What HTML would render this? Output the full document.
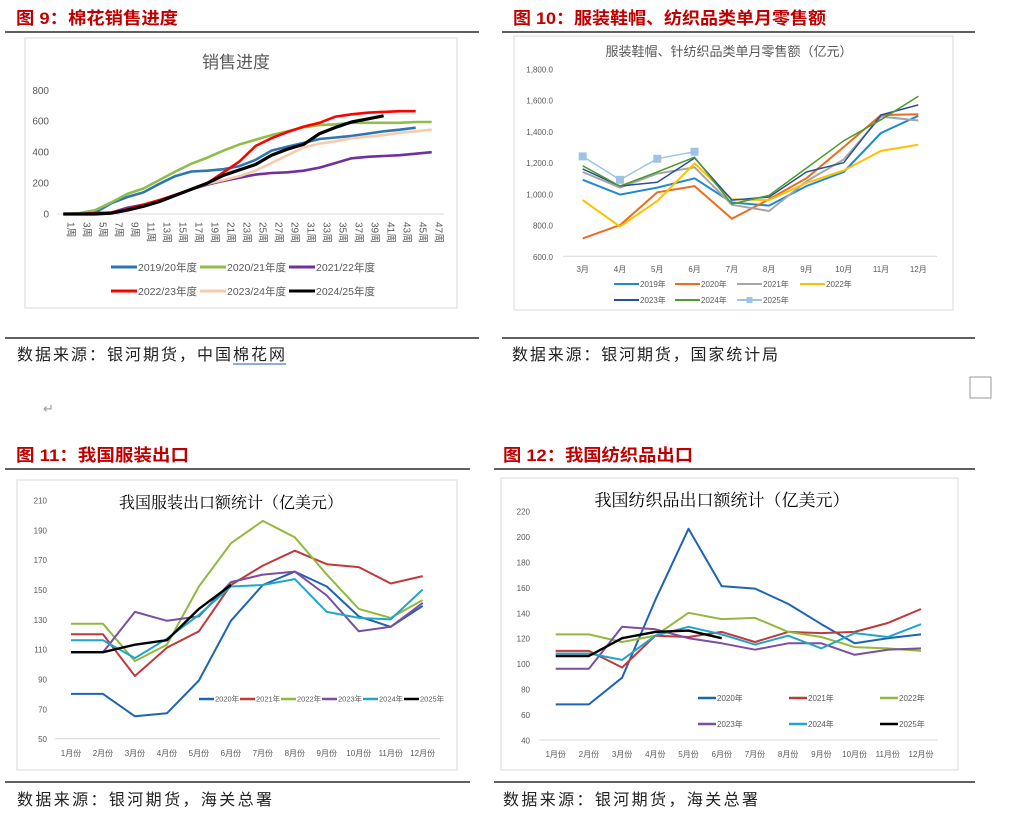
<!DOCTYPE html>
<html><head><meta charset="utf-8">
<style>
html,body{margin:0;padding:0;background:#fff;}
body{width:1018px;height:839px;overflow:hidden;position:relative;font-family:"Liberation Sans","Noto Sans CJK SC",sans-serif;}
svg{position:absolute;left:0;top:0;}
</style></head>
<body>
<svg id="pg" width="1018" height="839" viewBox="0 0 1018 839">
<g font-family="'Liberation Sans','Noto Sans CJK SC',sans-serif">
<text x="16" y="24" font-size="17" font-weight="bold" fill="#c00000" textLength="162" lengthAdjust="spacingAndGlyphs">图 9：棉花销售进度</text>
<text x="513" y="24" font-size="17" font-weight="bold" fill="#c00000" textLength="313" lengthAdjust="spacingAndGlyphs">图 10：服装鞋帽、纺织品类单月零售额</text>
<text x="16" y="461" font-size="17" font-weight="bold" fill="#c00000" textLength="173" lengthAdjust="spacingAndGlyphs">图 11：我国服装出口</text>
<text x="503" y="461" font-size="17" font-weight="bold" fill="#c00000" textLength="190" lengthAdjust="spacingAndGlyphs">图 12：我国纺织品出口</text>
<line x1="5" y1="32" x2="479" y2="32" stroke="#000" stroke-width="1.3"/>
<line x1="502" y1="32" x2="975" y2="32" stroke="#000" stroke-width="1.3"/>
<line x1="5" y1="338" x2="479" y2="338" stroke="#000" stroke-width="1.3"/>
<line x1="502" y1="338" x2="975" y2="338" stroke="#000" stroke-width="1.3"/>
<line x1="5" y1="469" x2="470" y2="469" stroke="#000" stroke-width="1.3"/>
<line x1="494" y1="469" x2="975" y2="469" stroke="#000" stroke-width="1.3"/>
<line x1="5" y1="782" x2="470" y2="782" stroke="#000" stroke-width="1.3"/>
<line x1="494" y1="782" x2="975" y2="782" stroke="#000" stroke-width="1.3"/>
<text x="17" y="360" font-size="16" fill="#222" textLength="268" lengthAdjust="spacing">数据来源：银河期货，中国棉花网</text>
<line x1="233" y1="364" x2="286" y2="364" stroke="#2255cc" stroke-width="1"/>
<text x="512" y="360" font-size="16" fill="#222" textLength="266" lengthAdjust="spacing">数据来源：银河期货，国家统计局</text>
<text x="17" y="805" font-size="16" fill="#222" textLength="255" lengthAdjust="spacing">数据来源：银河期货，海关总署</text>
<text x="503" y="805" font-size="16" fill="#222" textLength="255" lengthAdjust="spacing">数据来源：银河期货，海关总署</text>
<rect x="970" y="377" width="21" height="21" fill="none" stroke="#999"/>
<text x="43" y="413" font-size="13" fill="#999">↵</text>
</g>
<g id="c1"></g>
<g id="c2"></g>
<g id="c3"></g>
<g id="c4"></g>
</svg>
<script>
// ---- Chart 1 data ----
const c1Weeks = ["1周","3周","5周","7周","9周","11周","13周","15周","17周","19周","21周","23周","25周","27周","29周","31周","33周","35周","37周","39周","41周","43周","45周","47周"];
const c1Ticks = [0,200,400,600,800];
const c1Names = ["2019/20年度","2020/21年度","2021/22年度","2022/23年度","2023/24年度","2024/25年度"];
const c1S2019 = [0,0,10,70,110,140,195,245,275,280,290,310,350,410,435,460,485,495,505,520,535,545,558];
const c1S2020 = [0,5,25,75,130,165,220,275,325,365,410,450,480,510,535,560,575,580,590,590,590,590,595,595];
const c1S2021 = [0,0,5,10,40,60,90,120,160,190,215,235,255,265,270,280,300,330,360,370,375,380,390,400];
const c1S2022 = [0,0,5,10,30,60,90,125,160,200,270,340,440,490,530,565,590,630,645,655,660,665,665];
const c1S2023 = [0,0,0,5,20,50,80,120,160,195,220,245,280,330,380,430,455,470,490,500,510,525,535,545];
const c1S2024 = [0,0,0,5,25,50,80,120,160,200,250,285,320,380,420,450,520,560,595,615,635];
// ---- Chart 2 data ----
const c2Months = ["3月","4月","5月","6月","7月","8月","9月","10月","11月","12月"];
const c2Ticks = [600,800,1000,1200,1400,1600,1800];
const c2Names = ["2019年","2020年","2021年","2022年","2023年","2024年","2025年"];
const c2S2019 = [1090,995,1040,1100,945,925,1050,1140,1390,1500];
const c2S2020 = [715,800,1010,1050,840,965,1100,1300,1505,1510];
const c2S2021 = [1140,1040,1130,1170,930,890,1080,1220,1495,1470];
const c2S2022 = [960,790,955,1195,965,960,1070,1150,1275,1315];
const c2S2023 = [1160,1050,1075,1230,960,980,1140,1200,1505,1570];
const c2S2024 = [1180,1050,1140,1235,935,990,1165,1340,1475,1625];
const c2S2025 = [1240,1090,1225,1270];
// ---- Chart 3 data ----
const c3Months = ["1月份","2月份","3月份","4月份","5月份","6月份","7月份","8月份","9月份","10月份","11月份","12月份"];
const c3Ticks = [50,70,90,110,130,150,170,190,210];
const c3Names = ["2020年","2021年","2022年","2023年","2024年","2025年"];
const c3S2020 = [80,80,65,67,89,129,153,162,152,132,125,139];
const c3S2021 = [120,120,92,111,122,153,166,176,167,165,154,159];
const c3S2022 = [127,127,102,113,152,181,196,185,160,137,131,143];
const c3S2023 = [108,108,135,129,132,155,160,162,146,122,125,141];
const c3S2024 = [116,116,104,117,133,152,153,157,135,131,130,150];
const c3S2025 = [108,108,113,116,137,153];
// ---- Chart 4 data ----
const c4Months = ["1月份","2月份","3月份","4月份","5月份","6月份","7月份","8月份","9月份","10月份","11月份","12月份"];
const c4Ticks = [40,60,80,100,120,140,160,180,200,220];
const c4Names = ["2020年","2021年","2022年","2023年","2024年","2025年"];
const c4S2020 = [68,68,89,150,206,161,159,147,131,116,120,123];
const c4S2021 = [110,110,97,122,121,125,117,125,124,125,132,143];
const c4S2022 = [123,123,117,122,140,135,136,125,121,113,112,110];
const c4S2023 = [96,96,129,127,120,116,111,116,116,107,111,112];
const c4S2024 = [108,108,103,122,129,123,115,122,112,124,121,131];
const c4S2025 = [106,106,120,125,126,120];

const NS="http://www.w3.org/2000/svg";
function mk(parent,tag,attrs){const e=document.createElementNS(NS,tag);for(const k in attrs)e.setAttribute(k,attrs[k]);parent.appendChild(e);return e;}
function fmt(v,dec){return dec?v.toLocaleString('en-US',{minimumFractionDigits:1,maximumFractionDigits:1}):String(v);}

function chart(g,cfg){
  const box=mk(g,'rect',{x:cfg.box[0],y:cfg.box[1],width:cfg.box[2],height:cfg.box[3],fill:'#fff',stroke:'#d9d9d9'});
  
  
  const t=mk(g,'text',{x:cfg.titleX,y:cfg.titleY,'font-size':cfg.titleSize,'text-anchor':'middle',fill:cfg.titleColor,'font-family':cfg.titleFont});
  t.textContent=cfg.title;
  
  
  const n=cfg.cats.length;
  const xs=i=>cfg.x0+(cfg.x1-cfg.x0)*i/(n-1);
  const ys=v=>cfg.yb+(cfg.yt-cfg.yb)*(v-cfg.ymin)/(cfg.ymax-cfg.ymin);
  const ax=mk(g,'line',{x1:cfg.axL,y1:ys(cfg.ymin),x2:cfg.axR,y2:ys(cfg.ymin),stroke:'#d9d9d9','stroke-width':1});
  
  
  cfg.ticks.forEach(v=>{
    const tx=mk(g,'text',{x:cfg.tickX,y:ys(v)+3.5,'font-size':cfg.tickSize,'text-anchor':'end',fill:'#595959'});
    tx.textContent=fmt(v,cfg.dec);
    
    
  });
  cfg.cats.forEach((c,i)=>{
    if(cfg.rotate){
      const tx=mk(g,'text',{x:0,y:0,'font-size':cfg.catSize,fill:'#595959',transform:`translate(${xs(i)+4},${cfg.catY}) rotate(90)`});
      tx.textContent=c;
      
      
    } else {
      const tx=mk(g,'text',{x:xs(i),y:cfg.catY,'font-size':cfg.catSize,'text-anchor':'middle',fill:'#595959'});
      tx.textContent=c;
      
      
    }
  });
  cfg.series.forEach((s,k)=>{
    const pts=s.data.map((v,i)=>xs(i).toFixed(1)+','+ys(v).toFixed(1)).join(' ');
    const pl=mk(g,'polyline',{points:pts,fill:'none',stroke:s.color,'stroke-width':s.w||cfg.lw,'stroke-linejoin':'round'});
    
    
    if(s.marker){s.data.forEach((v,i)=>{
      const m=mk(g,'rect',{x:xs(i)-4,y:ys(v)-4,width:8,height:8,fill:s.color});
      
      
    });}
    const L=cfg.legend[k];
    const lg=mk(g,'g',{});
    
    
    mk(lg,'line',{x1:L[0],y1:L[1],x2:L[0]+cfg.legLen,y2:L[1],stroke:s.color,'stroke-width':cfg.legW});
    if(s.marker) mk(lg,'rect',{x:L[0]+cfg.legLen/2-3,y:L[1]-3,width:6,height:6,fill:s.color});
    const lt=mk(lg,'text',{x:L[0]+cfg.legLen+1,y:L[1]+cfg.legSize*0.36,'font-size':cfg.legSize,fill:'#595959'});
    lt.textContent=s.name;
  });
}

chart(document.getElementById('c1'),{
  box:[25,38,432,270],title:'销售进度',titleX:236,titleY:68,titleSize:17,titleColor:'#595959',titleFont:"'Liberation Sans','Noto Sans CJK SC',sans-serif",
  cats:c1Weeks,x0:63.3,x1:431.7,yb:214,yt:90.3,ymin:0,ymax:800,ticks:c1Ticks,tickX:49,tickSize:10,dec:false,
  axL:57,axR:444,rotate:true,catY:222,catSize:10,lw:2.6,
  series:[{name:c1Names[0],data:c1S2019,color:'#2e75b6'},{name:c1Names[1],data:c1S2020,color:'#8fbc4a'},{name:c1Names[2],data:c1S2021,color:'#7030a0'},
    {name:c1Names[3],data:c1S2022,color:'#ff0000'},{name:c1Names[4],data:c1S2023,color:'#f8cbad'},{name:c1Names[5],data:c1S2024,color:'#000000',w:3.2}],
  legend:[[111,267],[200,267],[289,267],[111,291],[200,291],[289,291]],legLen:26,legW:3,legSize:10.5
});
chart(document.getElementById('c2'),{
  box:[514,36,439,274],title:'服装鞋帽、针纺织品类单月零售额（亿元）',titleX:729,titleY:56,titleSize:13,titleColor:'#595959',titleFont:"'Liberation Sans','Noto Sans CJK SC',sans-serif",
  cats:c2Months,x0:582.7,x1:918.3,yb:256.3,yt:69,ymin:600,ymax:1800,ticks:c2Ticks,tickX:553,tickSize:8,dec:true,
  axL:563,axR:937,rotate:false,catY:272,catSize:8,lw:1.5,
  series:[{name:c2Names[0],data:c2S2019,color:'#1f8ad2',w:2},{name:c2Names[1],data:c2S2020,color:'#ed6b1f',w:2},{name:c2Names[2],data:c2S2021,color:'#a5a5a5',w:2},
    {name:c2Names[3],data:c2S2022,color:'#ffc000',w:2},{name:c2Names[4],data:c2S2023,color:'#264fa0'},{name:c2Names[5],data:c2S2024,color:'#4f9a2a'},
    {name:c2Names[6],data:c2S2025,color:'#9dc3e6',marker:true}],
  legend:[[614,284],[675,284],[737,284],[800,284],[614,300],[675,300],[737,300]],legLen:25,legW:2,legSize:8
});
chart(document.getElementById('c3'),{
  box:[17,480,440,290],title:'我国服装出口额统计（亿美元）',titleX:231,titleY:508,titleSize:16,titleColor:'#000',titleFont:"'Liberation Serif','Noto Serif CJK SC',serif",
  cats:c3Months,x0:71,x1:422.7,yb:738.7,yt:500,ymin:50,ymax:210,ticks:c3Ticks,tickX:47,tickSize:8,dec:false,
  axL:55,axR:440,rotate:false,catY:756,catSize:8,lw:2,
  series:[{name:c3Names[0],data:c3S2020,color:'#1f63b5'},{name:c3Names[1],data:c3S2021,color:'#c0393b'},{name:c3Names[2],data:c3S2022,color:'#92b93d'},
    {name:c3Names[3],data:c3S2023,color:'#7c4da0'},{name:c3Names[4],data:c3S2024,color:'#1fa6c8'},{name:c3Names[5],data:c3S2025,color:'#000',w:2.4}],
  legend:[[199,699],[240,699],[281,699],[322,699],[363,699],[404,699]],legLen:15,legW:2.5,legSize:7.5
});
chart(document.getElementById('c4'),{
  box:[501,478,457,292],title:'我国纺织品出口额统计（亿美元）',titleX:722,titleY:506,titleSize:17,titleColor:'#000',titleFont:"'Liberation Serif','Noto Serif CJK SC',serif",
  cats:c4Months,x0:555.7,x1:921,yb:740,yt:511,ymin:40,ymax:220,ticks:c4Ticks,tickX:530,tickSize:8,dec:false,
  axL:539,axR:938,rotate:false,catY:757,catSize:8,lw:2,
  series:[{name:c4Names[0],data:c4S2020,color:'#1f63b5'},{name:c4Names[1],data:c4S2021,color:'#c0393b'},{name:c4Names[2],data:c4S2022,color:'#92b93d'},
    {name:c4Names[3],data:c4S2023,color:'#7c4da0'},{name:c4Names[4],data:c4S2024,color:'#1fa6c8'},{name:c4Names[5],data:c4S2025,color:'#000',w:2.4}],
  legend:[[698,698],[789,698],[880,698],[698,724],[789,724],[880,724]],legLen:18,legW:2.5,legSize:8
});
</script>
</body></html>
